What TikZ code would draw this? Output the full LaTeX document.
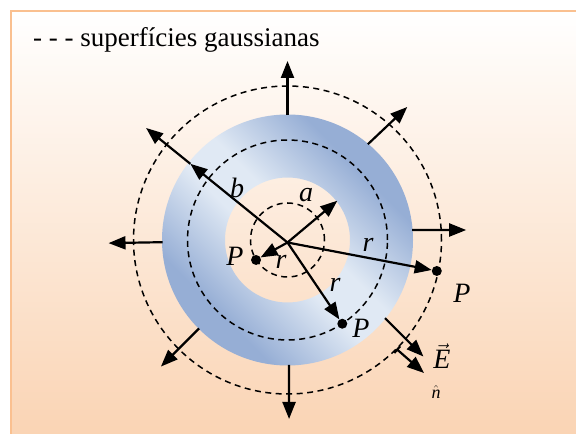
\documentclass[tikz,border=0pt]{standalone}
\usepackage{fontspec}
\setmainfont{Liberation Serif}
\usepackage{tikz}
\usetikzlibrary{arrows.meta,positioning,calc}
\definecolor{peach}{RGB}{250,212,180}
\definecolor{peachline}{RGB}{250,192,144}
\definecolor{ringdark}{RGB}{150,174,213}
\definecolor{ringlight}{RGB}{224,233,244}
\pgfdeclareverticalshading{ringshade}{100bp}{color(0bp)=(ringdark); color(30bp)=(ringdark);
  color(46bp)=(ringlight); color(54bp)=(ringlight); color(70bp)=(ringdark); color(100bp)=(ringdark)}

\begin{document}
\begin{tikzpicture}[x=1pt, y=1pt,
  fld/.style={line width=2.2pt, -{Triangle[length=17pt, width=13pt]}},
  gauss/.style={line width=1.5pt, dash pattern=on 6pt off 4.5pt},
  pt/.style={circle, fill=black, minimum size=10pt, inner sep=0pt},
  lab/.style={font=\fontsize{28}{32}\selectfont\itshape, inner sep=0pt}]
  \useasboundingbox (0,0) rectangle (576,434);
  \shade[top color=white, bottom color=peach] (11,0) rectangle (576,423);
  \draw[peachline, line width=2.5pt] (11,0) -- (11,423) -- (576,423);
  \node[font=\fontsize{27}{32}\selectfont, anchor=base west, inner sep=0pt] (leg) at (33,387) {- - - superfícies gaussianas};
  \coordinate (c) at (287.5,194);
  \coordinate (o) at (287.5,191.5);
  \shade[even odd rule, shading=ringshade, shading angle=-45]
    (c) circle (125.5) (c) circle (62.5);
  \foreach \rr in {37,100,154}
    \draw[gauss] (c) circle (\rr);
  \foreach \sa/\ea in {90/90, 50/48, 4.6/3.2, 181/181, 225/225, 270.7/270.5, -38.7/-40.6}
    \draw[fld] ($(c)+(\sa:125)$) -- ($(c)+(\ea:179)$);
  \draw[line width=2.2pt, {Bar[width=9pt]}-{Triangle[length=17pt, width=13pt]}] ($(c)+(-45:154)$) -- (424,61);
  \node[pt] (p1) at ($(o)+(209:36)$) {};
  \node[pt] (p2) at ($(o)+(-56:98)$) {};
  \node[pt] (p3) at ($(o)+(-10.8:152)$) {};
  \draw[fld] (o) -- (p1);
  \draw[fld] (o) -- (p2);
  \draw[fld] (o) -- (p3);
  \draw[fld] (o) -- ($(o)+(40:65)$);
  \draw[fld] (o) -- ($(o)+(141:125)$);
  \draw[fld] ($(o)+(141:125)$) -- ($(o)+(141:182)$);
  \node[lab] (lb) at (237,246) {b};
  \node[lab] (la) at (306,239) {a};
  \node[lab] (lp1) at (235,178) {P};
  \node[lab] (lr1) at (281,172) {r};
  \node[lab] (lp2) at (361,106) {P};
  \node[lab] (lr2) at (335,149) {r};
  \node[lab] (lr3) at (368,189) {r};
  \node[lab] (lp3) at (462,141) {P};
  \node[lab] (le) at (442,78) {$\vec{\textit{E}}$};
  \node[lab, font=\fontsize{18}{20}\selectfont] (ln) at (436,42) {$\hat{\textit{n}}$};
\end{tikzpicture}
\end{document}
